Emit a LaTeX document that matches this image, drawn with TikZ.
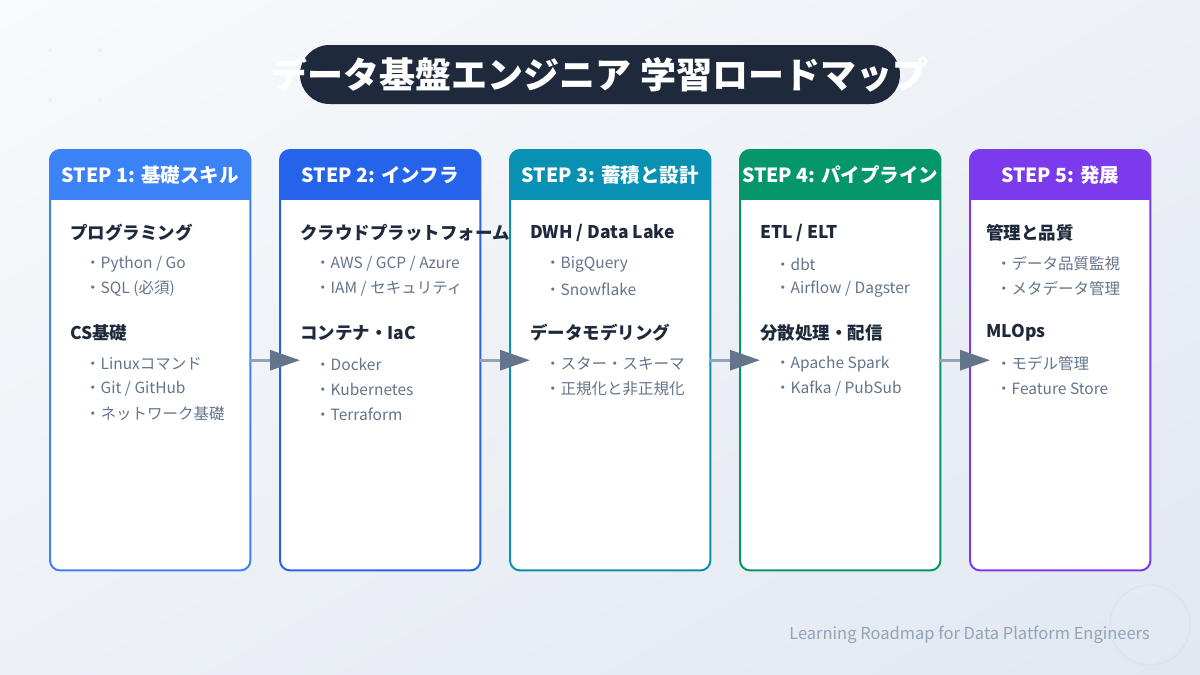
\documentclass[tikz,border=0pt]{standalone}
\usepackage{fontspec}
\setmainfont{Noto Sans CJK JP}
\usetikzlibrary{arrows.meta,positioning,shadings}

\definecolor{bgA}{HTML}{F8FAFC}
\definecolor{bgM}{HTML}{EDF1F6}
\definecolor{bgB}{HTML}{E2E8F0}
\definecolor{ink}{HTML}{1E293B}
\definecolor{slate}{HTML}{64748B}
\definecolor{mist}{HTML}{94A3B8}
\definecolor{stepA}{HTML}{3B82F6}
\definecolor{stepB}{HTML}{2563EB}
\definecolor{stepC}{HTML}{0891B2}
\definecolor{stepD}{HTML}{059669}
\definecolor{stepE}{HTML}{7C3AED}

\begin{document}
\begin{tikzpicture}[
        x=1pt, y=-1pt,
        card/.style={fill=white, rounded corners=10pt, minimum width=200pt, minimum height=420pt, anchor=north west, inner sep=0pt},
        head/.style={text=white, font=\bfseries\fontsize{19.5}{21}\selectfont, inner sep=0pt},
        topic/.style={anchor=west, text=ink, font=\bfseries\fontsize{17.5}{19}\selectfont, inner sep=0pt},
        item/.style={anchor=west, text=slate, font=\fontsize{15.5}{17}\selectfont, inner sep=0pt},
        flow/.style={line width=3pt, draw=mist, -{Triangle[length=30pt, width=20pt, color=slate]}}
    ]
    \useasboundingbox (0,0) rectangle (1200,675);
    \shade[upper left=bgA, upper right=bgM, lower left=bgM, lower right=bgB] (0,0) rectangle (1200,675);

    % faint decoration
    \foreach \dx in {50,100}
        \foreach \dy in {50,100}
            \fill[stepA, opacity=0.07] (\dx,\dy) circle (2);
    \draw[stepA, opacity=0.05, line width=1.5pt] (1150,625) circle (40);

    % title
    \node[fill=ink, rounded corners=29.5pt, minimum width=600pt, minimum height=59pt, inner sep=0pt] (pill) at (600,74.5) {};
    \node[text=white, font=\bfseries\fontsize{36}{40}\selectfont] (title) at (600,75) {データ基盤エンジニア 学習ロードマップ};

    % cards
    \node[card] (s1) at (50,150) {};
    \node[card] (s2) at (280,150) {};
    \node[card] (s3) at (510,150) {};
    \node[card] (s4) at (740,150) {};
    \node[card, minimum width=180pt] (s5) at (970,150) {};

    \foreach \n/\col in {s1/stepA, s2/stepB, s3/stepC, s4/stepD, s5/stepE} {
        \begin{scope}
            \clip[rounded corners=10pt] (\n.north west) rectangle (\n.south east);
            \fill[\col] (\n.north west) rectangle ([yshift=-50pt]\n.north east);
        \end{scope}
        \draw[\col, line width=2pt, rounded corners=10pt] (\n.north west) rectangle (\n.south east);
    }

    \node[head] (h1) at ([yshift=-25pt]s1.north) {STEP 1: 基礎スキル};
    \node[head] (h2) at ([yshift=-25pt]s2.north) {STEP 2: インフラ};
    \node[head] (h3) at ([yshift=-25pt]s3.north) {STEP 3: 蓄積と設計};
    \node[head] (h4) at ([yshift=-25pt]s4.north) {STEP 4: パイプライン};
    \node[head] (h5) at ([yshift=-25pt]s5.north) {STEP 5: 発展};

    % step 1
    \node[topic] (t1a) at (70,233) {プログラミング};
    \node[item] (i1a) at (85,264) {・Python / Go};
    \node[item] (i1b) at (85,289) {・SQL (必須)};
    \node[topic] (t1b) at (70,333) {CS基礎};
    \node[item] (i1c) at (85,364) {・Linuxコマンド};
    \node[item] (i1d) at (85,389) {・Git / GitHub};
    \node[item] (i1e) at (85,414) {・ネットワーク基礎};

    % step 2
    \node[topic] (t2a) at (300,233) {クラウドプラットフォーム};
    \node[item] (i2a) at (315,264) {・AWS / GCP / Azure};
    \node[item] (i2b) at (315,289) {・IAM / セキュリティ};
    \node[topic] (t2b) at (300,333) {コンテナ・IaC};
    \node[item] (i2c) at (315,364) {・Docker};
    \node[item] (i2d) at (315,389) {・Kubernetes};
    \node[item] (i2e) at (315,414) {・Terraform};

    % step 3
    \node[topic] (t3a) at (530,233) {DWH / Data Lake};
    \node[item] (i3a) at (545,264) {・BigQuery};
    \node[item] (i3b) at (545,289) {・Snowflake};
    \node[topic] (t3b) at (530,333) {データモデリング};
    \node[item] (i3c) at (545,364) {・スター・スキーマ};
    \node[item] (i3d) at (545,389) {・正規化と非正規化};

    % step 4
    \node[topic] (t4a) at (760,233) {ETL / ELT};
    \node[item] (i4a) at (775,264) {・dbt};
    \node[item] (i4b) at (775,289) {・Airflow / Dagster};
    \node[topic] (t4b) at (760,333) {分散処理・配信};
    \node[item] (i4c) at (775,364) {・Apache Spark};
    \node[item] (i4d) at (775,389) {・Kafka / PubSub};

    % step 5
    \node[topic] (t5a) at (986,233) {管理と品質};
    \node[item] (i5a) at (996,264) {・データ品質監視};
    \node[item] (i5b) at (996,289) {・メタデータ管理};
    \node[topic] (t5b) at (986,333) {MLOps};
    \node[item] (i5c) at (996,364) {・モデル管理};
    \node[item] (i5d) at (996,389) {・Feature Store};

    % arrows between steps
    \draw[flow] (s1.east) -- ([xshift=20pt]s2.west);
    \draw[flow] (s2.east) -- ([xshift=20pt]s3.west);
    \draw[flow] (s3.east) -- ([xshift=20pt]s4.west);
    \draw[flow] (s4.east) -- ([xshift=20pt]s5.west);

    \node[anchor=east, text=mist, font=\fontsize{16.5}{18}\selectfont, inner sep=0pt] (foot) at (1150,635) {Learning Roadmap for Data Platform Engineers};
\end{tikzpicture}
\end{document}
